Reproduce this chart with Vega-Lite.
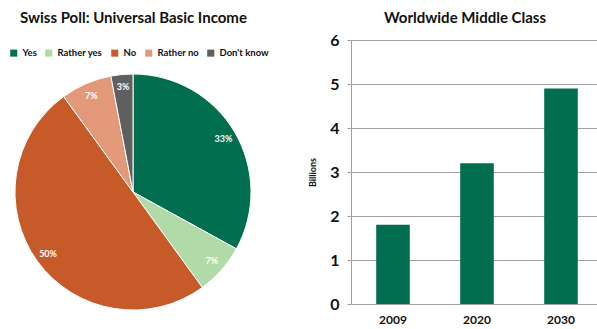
{
  "$schema": "https://vega.github.io/schema/vega-lite/v6.json",
  "padding": {"left": 8, "top": 11, "right": 0, "bottom": 0},
  "spacing": 50,
  "config": {
    "font": "Lato",
    "view": {"stroke": null},
    "title": {"font": "Lato", "fontWeight": "bold", "fontSize": 15, "color": "#111111"}
  },
  "datasets": {
    "poll": [
      {"answer": "Yes", "pct": 33, "label": "33%", "ord": 1},
      {"answer": "Rather yes", "pct": 7, "label": "7%", "ord": 2},
      {"answer": "No", "pct": 50, "label": "50%", "ord": 3},
      {"answer": "Rather no", "pct": 7, "label": "7%", "ord": 4},
      {"answer": "Don't know", "pct": 3, "label": "3%", "ord": 5}
    ],
    "middle": [
      {"year": "2009", "billions": 1.8},
      {"year": "2020", "billions": 3.2},
      {"year": "2030", "billions": 4.9}
    ]
  },
  "hconcat": [
    {
      "title": {"text": "Swiss Poll: Universal Basic Income", "anchor": "start", "offset": 14, "dx": 12},
      "width": 250,
      "height": 304,
      "data": {"name": "poll"},
      "encoding": {
        "theta": {"field": "pct", "type": "quantitative", "stack": true},
        "order": {"field": "ord", "type": "quantitative"}
      },
      "layer": [
        {
          "mark": {"type": "arc", "outerRadius": 118, "stroke": "white", "strokeWidth": 1},
          "encoding": {
            "color": {
              "field": "answer", "type": "nominal",
              "scale": {
                "domain": ["Yes", "Rather yes", "No", "Rather no", "Don't know"],
                "range": ["#006E4F", "#B0DAA7", "#C65A28", "#E4987A", "#5F5F5F"]
              },
              "legend": {
                "title": null, "orient": "none", "legendX": 1, "legendY": 8, "direction": "horizontal",
                "symbolType": "square", "symbolSize": 50, "symbolStrokeWidth": 0,
                "labelFont": "Lato", "labelFontWeight": "bold", "labelFontSize": 9.5,
                "labelColor": "#111111", "columnPadding": 7, "symbolOffset": 0,
                "labelOffset": 4, "labelLimit": 120
              }
            }
          }
        },
        {
          "mark": {"type": "text", "radius": 105, "color": "white", "fontWeight": "bold", "fontSize": 9, "font": "Lato"},
          "encoding": {"text": {"field": "label", "type": "nominal"}}
        }
      ]
    },
    {
      "title": {"text": "Worldwide Middle Class", "anchor": "middle", "offset": 6, "dx": -12},
      "width": 252,
      "height": 264,
      "data": {"name": "middle"},
      "mark": {"type": "bar", "color": "#006E4F"},
      "encoding": {
        "x": {
          "field": "year", "type": "ordinal",
          "scale": {"paddingInner": 0.6, "paddingOuter": 0.3},
          "axis": {"title": null, "labelAngle": 0, "labelFont": "Lato", "labelFontWeight": "bold", "labelFontSize": 12, "labelColor": "#111111", "ticks": false, "domainColor": "#A0A0A0", "labelPadding": 10}
        },
        "y": {
          "field": "billions", "type": "quantitative",
          "scale": {"domain": [0, 6]},
          "axis": {"title": "Billions", "titleFont": "Lato", "titleFontSize": 9, "titleFontWeight": "bold", "titleColor": "#111111", "titlePadding": 12, "values": [0, 1, 2, 3, 4, 5, 6], "labelFont": "Lato", "labelFontWeight": "bold", "labelFontSize": 16, "labelColor": "#111111", "labelPadding": 8, "tickSize": 4, "tickColor": "#A0A0A0", "domainColor": "#A0A0A0", "gridColor": "#A0A0A0", "grid": true}
        }
      }
    }
  ]
}
